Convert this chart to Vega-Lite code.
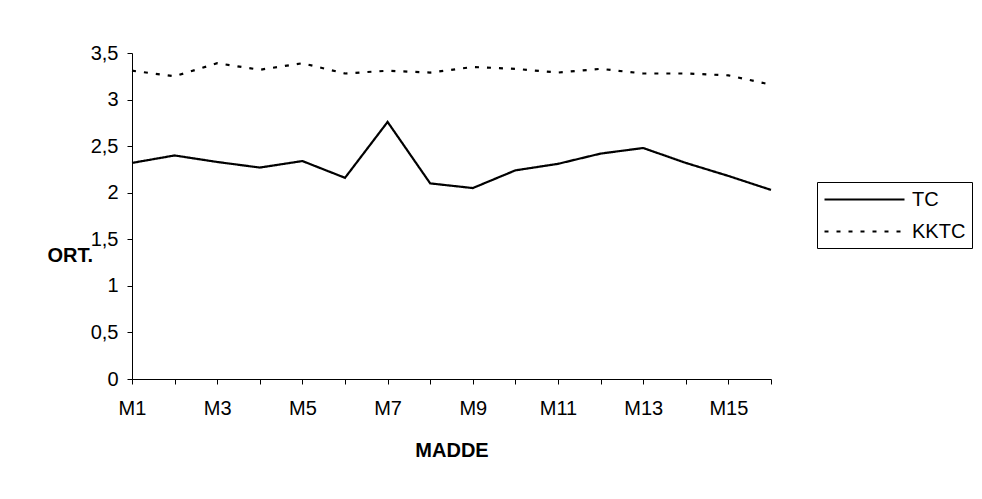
{
  "$schema": "https://vega.github.io/schema/vega-lite/v6.json",
  "autosize": "none",
  "width": 639,
  "height": 326,
  "padding": {"left": 132, "top": 53, "right": 211, "bottom": 120},
  "background": "white",
  "config": {
    "view": {"stroke": null},
    "font": "Liberation Sans",
    "axis": {"grid": false, "domainColor": "black", "tickColor": "black", "labelColor": "black", "titleColor": "black", "labelFont": "Liberation Sans", "titleFont": "Liberation Sans"}
  },
  "data": {
    "values": [
      {"madde": "M1", "grup": "TC", "ort": 2.32},
      {"madde": "M2", "grup": "TC", "ort": 2.40},
      {"madde": "M3", "grup": "TC", "ort": 2.33},
      {"madde": "M4", "grup": "TC", "ort": 2.27},
      {"madde": "M5", "grup": "TC", "ort": 2.34},
      {"madde": "M6", "grup": "TC", "ort": 2.16},
      {"madde": "M7", "grup": "TC", "ort": 2.76},
      {"madde": "M8", "grup": "TC", "ort": 2.10},
      {"madde": "M9", "grup": "TC", "ort": 2.05},
      {"madde": "M10", "grup": "TC", "ort": 2.24},
      {"madde": "M11", "grup": "TC", "ort": 2.31},
      {"madde": "M12", "grup": "TC", "ort": 2.42},
      {"madde": "M13", "grup": "TC", "ort": 2.48},
      {"madde": "M14", "grup": "TC", "ort": 2.32},
      {"madde": "M15", "grup": "TC", "ort": 2.18},
      {"madde": "M16", "grup": "TC", "ort": 2.03},
      {"madde": "M1", "grup": "KKTC", "ort": 3.31},
      {"madde": "M2", "grup": "KKTC", "ort": 3.25},
      {"madde": "M3", "grup": "KKTC", "ort": 3.39},
      {"madde": "M4", "grup": "KKTC", "ort": 3.32},
      {"madde": "M5", "grup": "KKTC", "ort": 3.39},
      {"madde": "M6", "grup": "KKTC", "ort": 3.28},
      {"madde": "M7", "grup": "KKTC", "ort": 3.31},
      {"madde": "M8", "grup": "KKTC", "ort": 3.29},
      {"madde": "M9", "grup": "KKTC", "ort": 3.35},
      {"madde": "M10", "grup": "KKTC", "ort": 3.33},
      {"madde": "M11", "grup": "KKTC", "ort": 3.29},
      {"madde": "M12", "grup": "KKTC", "ort": 3.33},
      {"madde": "M13", "grup": "KKTC", "ort": 3.28},
      {"madde": "M14", "grup": "KKTC", "ort": 3.28},
      {"madde": "M15", "grup": "KKTC", "ort": 3.26},
      {"madde": "M16", "grup": "KKTC", "ort": 3.16}
    ]
  },
  "mark": {"type": "line", "color": "black", "strokeWidth": 2.2},
  "encoding": {
    "x": {
      "field": "madde", "type": "ordinal",
      "sort": ["M1","M2","M3","M4","M5","M6","M7","M8","M9","M10","M11","M12","M13","M14","M15","M16"],
      "scale": {"type": "point", "padding": 0},
      "axis": {
        "title": "MADDE", "titleFontSize": 20, "titleFontWeight": "bold",
        "titleY": 71, "titleBaseline": "middle",
        "labelAngle": 0, "labelFontSize": 20, "labelPadding": 14, "tickSize": 5,
        "labelExpr": "parseInt(substring(datum.value, 1)) % 2 == 1 ? datum.value : ''"
      }
    },
    "y": {
      "field": "ort", "type": "quantitative",
      "scale": {"domain": [0, 3.5], "nice": false, "zero": true},
      "axis": {
        "title": "ORT.", "titleFontSize": 20, "titleFontWeight": "bold",
        "titleAngle": 0, "titleX": -85, "titleY": 202, "titleAlign": "left", "titleBaseline": "middle",
        "values": [0, 0.5, 1, 1.5, 2, 2.5, 3, 3.5],
        "labelFontSize": 20, "labelPadding": 9, "tickSize": 5,
        "labelExpr": "replace(format(datum.value, '~g'), '.', ',')"
      }
    },
    "strokeDash": {
      "field": "grup", "type": "nominal",
      "scale": {"domain": ["TC", "KKTC"], "range": [[1, 0], [4, 8]]},
      "legend": {
        "title": null, "orient": "none", "legendX": 685, "legendY": 129,
        "strokeColor": "black", "padding": 6,
        "symbolType": "M-4,0H4", "symbolSize": 400, "symbolOffset": 30, "symbolStrokeWidth": 2.2, "symbolStrokeColor": "black",
        "labelFontSize": 20, "labelColor": "black", "labelOffset": 36, "rowPadding": 10
      }
    }
  }
}
